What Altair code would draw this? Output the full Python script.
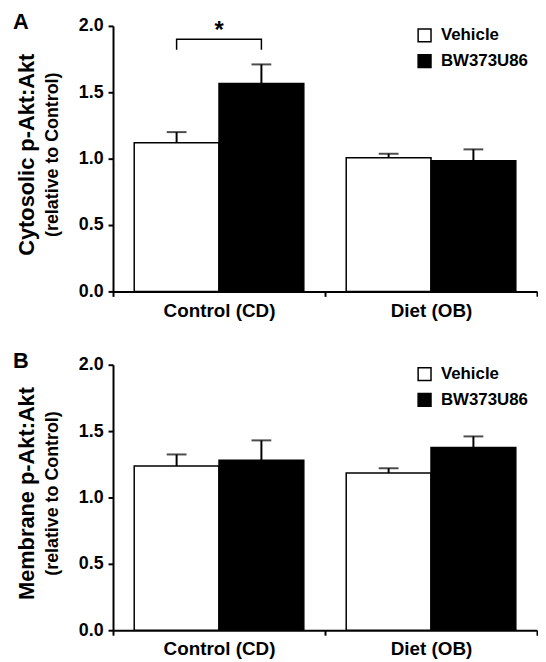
import altair as alt
import pandas as pd

groups = ["Control (CD)", "Diet (OB)"]
treatments = ["Vehicle", "BW373U86"]

# Panel A: cytosolic p-Akt:Akt (mean, upper SEM)
a_vehicle = [1.12, 1.007]
a_vehicle_err = [0.08, 0.03]
a_bw = [1.567, 0.985]
a_bw_err = [0.143, 0.085]

# Panel B: membrane p-Akt:Akt
b_vehicle = [1.237, 1.185]
b_vehicle_err = [0.087, 0.035]
b_bw = [1.28, 1.376]
b_bw_err = [0.15, 0.084]

y_ticks = [0.0, 0.5, 1.0, 1.5, 2.0]

# significance bracket (panel A, Control group)
bracket_treat = ["Vehicle", "Vehicle", "BW373U86", "BW373U86"]
bracket_y = [1.82, 1.90, 1.90, 1.82]
star_y = 1.91

FONT = "Liberation Sans"


def make_df(veh, veh_err, bw, bw_err):
    rows = []
    for i, g in enumerate(groups):
        rows.append({"group": g, "treatment": "Vehicle", "value": veh[i],
                     "upper": veh[i] + veh_err[i]})
        rows.append({"group": g, "treatment": "BW373U86", "value": bw[i],
                     "upper": bw[i] + bw_err[i]})
    return pd.DataFrame(rows)


def x_enc():
    return alt.X("group:N", sort=groups,
                 scale=alt.Scale(domain=groups, paddingInner=0, paddingOuter=0),
                 axis=alt.Axis(title=None, labelAngle=0, tickBand="extent",
                               labelFontSize=19, labelFont=FONT,
                               labelFontWeight="bold", labelColor="black",
                               labelPadding=5, tickSize=5, tickWidth=2,
                               tickColor="black", domainColor="black",
                               domainWidth=2, grid=False))


def xoff_enc():
    return alt.XOffset("treatment:N", sort=treatments,
                       scale=alt.Scale(domain=treatments, paddingInner=0,
                                       paddingOuter=0.25))


def y_enc(field):
    return alt.Y(field, scale=alt.Scale(domain=[0, 2], nice=False),
                 axis=alt.Axis(title=None, values=y_ticks, format=".1f",
                               labelFontSize=18, labelFont=FONT,
                               labelFontWeight="bold", labelColor="black",
                               labelPadding=5, tickSize=5, tickWidth=2,
                               tickColor="black", domainColor="black",
                               domainWidth=2, grid=False))


def label(text, x, y, size, angle=0, align="center", baseline="middle"):
    return alt.Chart(pd.DataFrame({"t": [text]})).mark_text(
        font=FONT, fontWeight="bold", fontSize=size, angle=angle,
        align=align, baseline=baseline, color="black"
    ).encode(text="t:N", x=alt.value(x), y=alt.value(y))


def panel(df, letter, title1, bracket=False):
    base = alt.Chart(df)
    bars = base.mark_bar(stroke="black", strokeWidth=1.5).encode(
        x=x_enc(), xOffset=xoff_enc(), y=y_enc("value:Q"),
        fill=alt.Fill("treatment:N", sort=treatments,
                      scale=alt.Scale(domain=treatments, range=["white", "black"]),
                      legend=alt.Legend(title=None, orient="none", legendX=306,
                                        legendY=1, symbolType="square",
                                        symbolSize=169, symbolStrokeColor="black",
                                        symbolStrokeWidth=1.5, labelFontSize=17,
                                        labelFont=FONT, labelFontWeight="bold",
                                        labelColor="black", labelOffset=8,
                                        rowPadding=7, padding=0)))
    err = base.mark_rule(color="black", strokeWidth=2).encode(
        x=x_enc(), xOffset=xoff_enc(), y=y_enc("value:Q"), y2="upper:Q")
    caps = base.mark_tick(color="black", thickness=2, size=20).encode(
        x=x_enc(), xOffset=xoff_enc(), y=y_enc("upper:Q"))
    layers = [bars, err, caps,
              label(letter, -101, 3, 22, align="left", baseline="alphabetic"),
              label(title1, -87, 130, 22, angle=270),
              label("(relative to Control)", -61, 130, 18, angle=270)]
    if bracket:
        bdf = pd.DataFrame({"group": [groups[0]] * 4, "treatment": bracket_treat,
                            "y": bracket_y, "o": list(range(4))})
        br = alt.Chart(bdf).mark_line(color="black", strokeWidth=1.5).encode(
            x=x_enc(), xOffset=xoff_enc(), y=y_enc("y:Q"), order="o:Q")
        sdf = pd.DataFrame({"group": [groups[0]], "y": [star_y], "t": ["*"]})
        star = alt.Chart(sdf).mark_text(font=FONT, fontWeight="bold", fontSize=24,
                                        baseline="alphabetic", color="black").encode(
            x=x_enc(), y=y_enc("y:Q"), text="t:N")
        layers += [br, star]
    return alt.layer(*layers).properties(width=428, height=268)


pa = panel(make_df(a_vehicle, a_vehicle_err, a_bw, a_bw_err), "A",
           "Cytosolic p-Akt:Akt", bracket=True)
pb = panel(make_df(b_vehicle, b_vehicle_err, b_bw, b_bw_err), "B",
           "Membrane p-Akt:Akt")

chart = alt.vconcat(pa, pb, spacing=30).resolve_scale(
    fill="independent").resolve_legend(fill="independent").configure_view(
    stroke=None).properties(
    padding={"left": 5, "top": 0, "right": 0, "bottom": 0},
    background="white")

chart.save("out.html", embed_options={"renderer": "svg", "actions": False})
